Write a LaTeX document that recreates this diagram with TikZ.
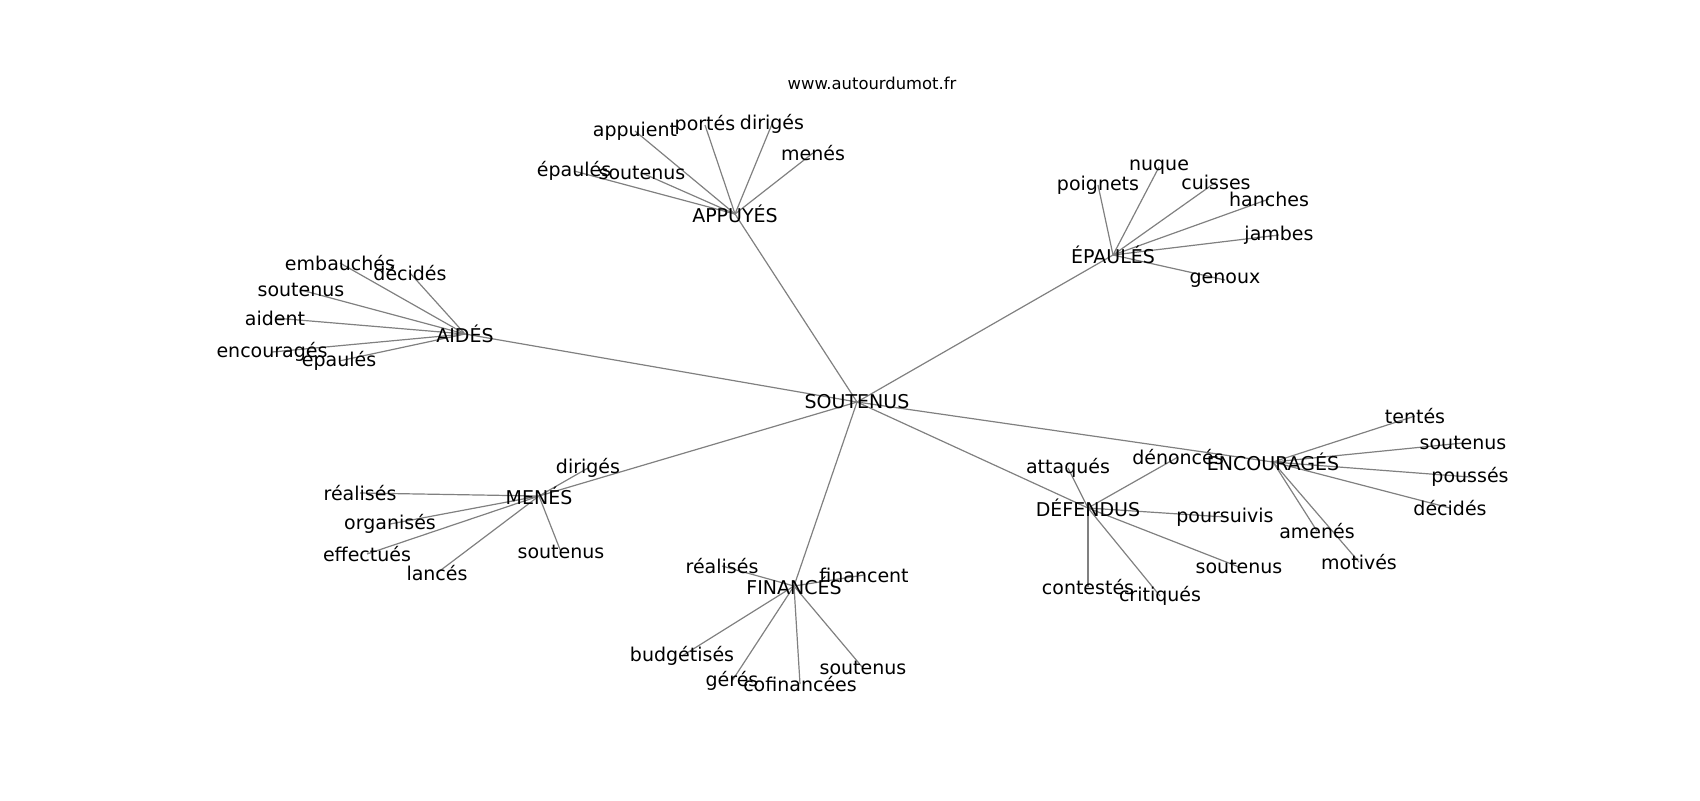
\documentclass[tikz,border=0pt]{standalone}
\usepackage{fontspec}
\setmainfont{DejaVu Sans}
\usetikzlibrary{backgrounds}
\begin{document}
\begin{tikzpicture}[x=0.5pt,y=-0.5pt,
  lbl/.style={inner sep=0pt,font=\fontsize{9.5}{11}\selectfont,text=black},
  ttl/.style={inner sep=0pt,font=\fontsize{8.2}{10}\selectfont,text=black},
  edge/.style={draw=black!50,line width=0.6pt}]
\useasboundingbox (0,0) rectangle (1700,800);
\node[ttl] (title) at (872,83) {www.autourdumot.fr};
% hubs
\node[lbl] (S) at (857,402) {SOUTENUS};
\node[lbl] (A) at (735,214) {APPUYÉS};
\node[lbl] (B) at (465,334) {AIDÉS};
\node[lbl] (C) at (1113,255) {ÉPAULÉS};
\node[lbl] (D) at (539,496) {MENÉS};
\node[lbl] (E) at (794,586) {FINANCÉS};
\node[lbl] (F) at (1088,508) {DÉFENDUS};
\node[lbl] (G) at (1273,462) {ENCOURAGÉS};
% APPUYÉS leaves
\node[lbl] (a1) at (635,131) {appuient};
\node[lbl] (a2) at (705,125) {portés};
\node[lbl] (a3) at (772,124) {dirigés};
\node[lbl] (a4) at (813,153) {menés};
\node[lbl] (a5) at (642,173) {soutenus};
\node[lbl] (a6) at (574,171) {épaulés};
% AIDÉS leaves
\node[lbl] (b1) at (340,263) {embauchés};
\node[lbl] (b2) at (410,273) {décidés};
\node[lbl] (b3) at (301,290) {soutenus};
\node[lbl] (b4) at (275,318) {aident};
\node[lbl] (b5) at (272,352) {encouragés};
\node[lbl] (b6) at (339,361) {épaulés};
% ÉPAULÉS leaves
\node[lbl] (c1) at (1098,185) {poignets};
\node[lbl] (c2) at (1159,167) {nuque};
\node[lbl] (c3) at (1216,182) {cuisses};
\node[lbl] (c4) at (1269,199) {hanches};
\node[lbl] (c5) at (1279,235) {jambes};
\node[lbl] (c6) at (1225,280) {genoux};
% MENÉS leaves
\node[lbl] (d1) at (588,468) {dirigés};
\node[lbl] (d2) at (360,493) {réalisés};
\node[lbl] (d3) at (390,524) {organisés};
\node[lbl] (d4) at (367,554) {effectués};
\node[lbl] (d5) at (437,573) {lancés};
\node[lbl] (d6) at (561,552) {soutenus};
% FINANCÉS leaves
\node[lbl] (e1) at (722,566) {réalisés};
\node[lbl] (e2) at (864,575) {financent};
\node[lbl] (e3) at (682,656) {budgétisés};
\node[lbl] (e4) at (732,681) {gérés};
\node[lbl] (e5) at (800,684) {cofinancées};
\node[lbl] (e6) at (863,668) {soutenus};
% DÉFENDUS leaves
\node[lbl] (f1) at (1068,468) {attaqués};
\node[lbl] (f2) at (1178,457) {dénoncés};
\node[lbl] (f3) at (1225,517) {poursuivis};
\node[lbl] (f4) at (1239,567) {soutenus};
\node[lbl] (f5) at (1088,587) {contestés};
\node[lbl] (f6) at (1160,596) {critiqués};
% ENCOURAGÉS leaves
\node[lbl] (g1) at (1415,416) {tentés};
\node[lbl] (g2) at (1463,443) {soutenus};
\node[lbl] (g3) at (1470,477) {poussés};
\node[lbl] (g4) at (1450,508) {décidés};
\node[lbl] (g5) at (1317,531) {amenés};
\node[lbl] (g6) at (1359,562) {motivés};
\begin{scope}[on background layer]
\foreach \h in {A,B,C,D,E,F,G} \draw[edge] (S.center) -- (\h.center);
\foreach \l in {a1,a2,a3,a4,a5,a6} \draw[edge] (A.center) -- (\l.center);
\foreach \l in {b1,b2,b3,b4,b5,b6} \draw[edge] (B.center) -- (\l.center);
\foreach \l in {c1,c2,c3,c4,c5,c6} \draw[edge] (C.center) -- (\l.center);
\foreach \l in {d1,d2,d3,d4,d5,d6} \draw[edge] (D.center) -- (\l.center);
\foreach \l in {e1,e2,e3,e4,e5,e6} \draw[edge] (E.center) -- (\l.center);
\foreach \l in {f1,f2,f3,f4,f5,f6} \draw[edge] (F.center) -- (\l.center);
\foreach \l in {g1,g2,g3,g4,g5,g6} \draw[edge] (G.center) -- (\l.center);
\end{scope}
\end{tikzpicture}
\end{document}
